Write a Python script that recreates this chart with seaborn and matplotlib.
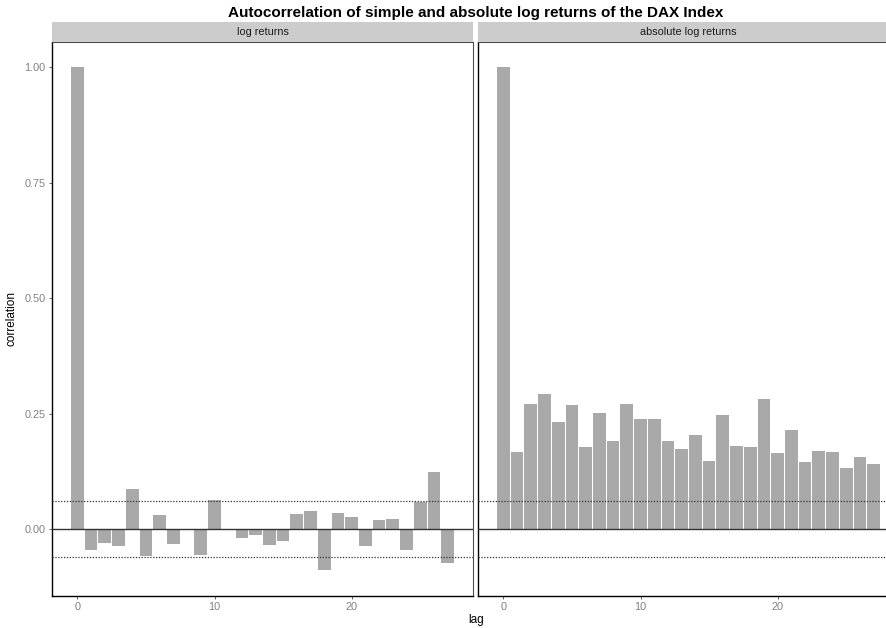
import numpy as np
import pandas as pd
import matplotlib
matplotlib.use("Agg")
import matplotlib.pyplot as plt
import seaborn as sns

# -----------------------------
# DATA
# -----------------------------
lags = list(range(28))
acf_log = [1.000, -0.046, -0.029, -0.037, 0.087, -0.057, 0.031, -0.032,
           0.001, -0.055, 0.063, 0.001, -0.020, -0.012, -0.034, -0.025,
           0.033, 0.040, -0.089, 0.035, 0.027, -0.037, 0.020, 0.022,
           -0.045, 0.060, 0.124, -0.073]
acf_abs = [1.000, 0.167, 0.271, 0.292, 0.232, 0.269, 0.178, 0.251,
           0.191, 0.271, 0.238, 0.238, 0.191, 0.174, 0.204, 0.148,
           0.247, 0.180, 0.178, 0.281, 0.165, 0.215, 0.145, 0.169,
           0.167, 0.132, 0.156, 0.141]
conf_bound = 0.0605
panel_names = ["log returns", "absolute log returns"]
y_ticks = [0.0, 0.25, 0.5, 0.75, 1.0]
y_tick_labels = ["0.00", "0.25", "0.50", "0.75", "1.00"]
x_ticks = [0, 10, 20]

df = pd.DataFrame({
    "lag": lags * 2,
    "correlation": acf_log + acf_abs,
    "panel": [panel_names[0]] * len(lags) + [panel_names[1]] * len(lags),
})

# -----------------------------
# PLOT
# -----------------------------
sns.set_style("white")
plt.rcParams["font.family"] = ["Liberation Sans", "DejaVu Sans"]

W, H = 886, 628
fig = plt.figure(figsize=(W / 100, H / 100), dpi=100)

panel_px = [(52, 473), (478, 899)]
top_px, bottom_px = 42, 596
strip_top = 22

for i, (name, (x0, x1)) in enumerate(zip(panel_names, panel_px)):
    ax = fig.add_axes([x0 / W, 1 - bottom_px / H, (x1 - x0) / W, (bottom_px - top_px) / H])
    sub = df[df["panel"] == name]
    sns.barplot(data=sub, x="lag", y="correlation", native_scale=True,
                color="#A9A9A9", saturation=1, width=0.93, ax=ax, errorbar=None)
    for p in ax.patches:
        p.set_edgecolor("none")

    ax.axhline(0, color="#333333", lw=1.0, zorder=3)
    ax.axhline(conf_bound, color="#333333", lw=0.9, ls=(0, (1, 1.3)), zorder=3)
    ax.axhline(-conf_bound, color="#333333", lw=0.9, ls=(0, (1, 1.3)), zorder=3)

    ax.set_xlim(-1.85, 28.85)
    ax.set_ylim(-0.1445, 1.0545)
    ax.set_xticks(x_ticks)
    ax.set_xticklabels([str(t) for t in x_ticks])
    ax.set_yticks(y_ticks)
    ax.tick_params(axis="both", colors="#4D4D4D", labelcolor="#808080",
                   labelsize=7.8, length=2.5, width=0.6, pad=2)
    ax.tick_params(axis="x", bottom=True)
    if i == 0:
        ax.set_yticklabels(y_tick_labels)
        ax.tick_params(axis="y", left=True)
    else:
        ax.set_yticklabels([])
        ax.tick_params(axis="y", left=False)
    ax.set_xlabel("")
    ax.set_ylabel("")

    for side in ["left", "bottom"]:
        ax.spines[side].set_color("black")
        ax.spines[side].set_linewidth(1.0)
    for side in ["top", "right"]:
        ax.spines[side].set_color("#4D4D4D")
        ax.spines[side].set_linewidth(0.8)

    # facet strip
    sax = fig.add_axes([x0 / W, 1 - top_px / H, (x1 - x0) / W, (top_px - strip_top) / H])
    sax.set_facecolor("#CCCCCC")
    sax.set_xticks([])
    sax.set_yticks([])
    for s in sax.spines.values():
        s.set_visible(False)
    sax.text(0.5, 0.5, name, ha="center", va="center", fontsize=7.8,
             color="#1A1A1A", transform=sax.transAxes)

fig.text(476 / W, 1 - 13 / H, "Autocorrelation of simple and absolute log returns of the DAX Index",
         ha="center", va="center", fontsize=11, fontweight="bold", color="black")
fig.text(476 / W, 1 - 620 / H, "lag", ha="center", va="center", fontsize=8.5, color="black")
fig.text(12 / W, 1 - 318 / H, "correlation", ha="center", va="center",
         fontsize=8.5, rotation=90, color="black")

fig.savefig("out.png", dpi=100)
